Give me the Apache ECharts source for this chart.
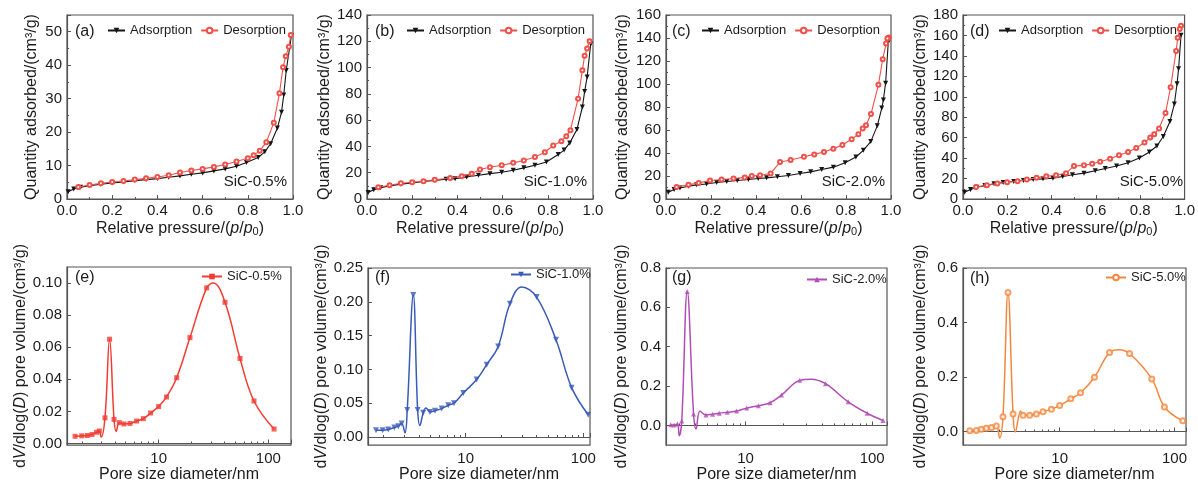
<!DOCTYPE html>
<html><head><meta charset="utf-8">
<script src="https://cdn.jsdelivr.net/npm/echarts@6/dist/echarts.min.js"></script>
<style>html,body{margin:0;padding:0;background:#fff}#c{width:1198px;height:484px}</style>
</head><body><div id="c"></div>
<script>
// ---------- Isotherms (relative pressure p/p0, quantity adsorbed cm3/g) ----------
const aAdsP = [0.005,0.03,0.06,0.1,0.15,0.2,0.25,0.3,0.35,0.4,0.45,0.5,0.55,0.6,0.65,0.7,0.75,0.794,0.846,0.875,0.901,0.931,0.949,0.959,0.97,0.993];
const aAdsQ = [2.2,3.0,3.5,4.0,4.4,4.8,5.1,5.5,5.8,6.1,6.5,6.9,7.4,7.8,8.4,9.0,9.8,10.9,12.4,14.1,16.5,21.2,25.9,31.1,38.4,48.8];
const aDesP = [0.99,0.982,0.968,0.956,0.94,0.915,0.882,0.853,0.826,0.8,0.75,0.7,0.65,0.6,0.55,0.5,0.45,0.4,0.35,0.3,0.25,0.2,0.15,0.1,0.05];
const aDesQ = [49,45.5,42.7,39.4,31.6,22.8,17,14.4,13.1,12.2,11.2,10.3,9.6,9.0,8.5,7.9,7.1,6.6,6.2,5.8,5.4,5.1,4.7,4.2,3.6];

const bAdsP = [0.005,0.03,0.06,0.1,0.15,0.2,0.25,0.3,0.35,0.39,0.441,0.493,0.544,0.596,0.647,0.694,0.743,0.794,0.846,0.872,0.897,0.929,0.953,0.963,0.974,0.99];
const bAdsQ = [5,7,8.5,10,11.3,12.3,13.3,14.2,15,15.5,16.8,18.1,19.3,20.4,21.9,23.7,25.7,28.2,33.8,37.2,42.7,52.9,70,81.7,92.9,118];
const bDesP = [0.985,0.974,0.963,0.953,0.934,0.9,0.882,0.86,0.824,0.787,0.743,0.694,0.647,0.596,0.544,0.5,0.463,0.419,0.368,0.3,0.25,0.2,0.15,0.1,0.05];
const bDesQ = [120,114.5,109,98,76.3,52.4,47.8,44,40.7,35.6,32,29.3,27.5,25.7,24.2,22.4,19.3,17.3,16,14.6,13.6,12.8,12,10.5,9];

const cAdsP = [0.01,0.036,0.062,0.1,0.136,0.18,0.225,0.27,0.317,0.366,0.41,0.447,0.495,0.544,0.596,0.643,0.692,0.744,0.796,0.844,0.877,0.91,0.939,0.959,0.966,0.976,0.988];
const cAdsQ = [5.8,8.2,9.6,11.1,12.3,13.1,14.3,15.2,16.1,16.9,17.8,18.4,19.3,20.4,22.2,23.6,25.7,27.7,31.5,36.5,42.3,49.9,63.6,79.1,86.1,100.7,136.6];
const cDesP = [0.99,0.984,0.978,0.963,0.944,0.911,0.889,0.874,0.855,0.825,0.784,0.744,0.702,0.659,0.613,0.554,0.507,0.465,0.418,0.381,0.35,0.3,0.247,0.196,0.145,0.1,0.047];
const cDesQ = [140.5,139.6,135.2,121.5,99.3,73.9,64.2,61.3,56.4,52,47,43.8,40.9,38.8,36.8,33.9,32.1,22.2,20.7,19.9,18.8,17.8,16.9,16.1,14,12.3,10.5];

const dAdsP = [0.007,0.034,0.063,0.099,0.14,0.181,0.229,0.273,0.317,0.361,0.406,0.45,0.494,0.546,0.597,0.642,0.693,0.745,0.796,0.841,0.875,0.904,0.934,0.954,0.966,0.973,0.984];
const dAdsQ = [6.6,9.2,11.5,13.1,14.8,16.1,17.1,18.1,19.1,19.7,20.4,22,23.7,25.3,27.6,29.9,32.2,35.5,40.1,46,51.9,61.1,75.9,93,112.7,127.5,160.3];
const dDesP = [0.984,0.978,0.969,0.962,0.937,0.914,0.885,0.863,0.845,0.819,0.782,0.745,0.704,0.664,0.619,0.583,0.546,0.501,0.465,0.42,0.376,0.332,0.288,0.246,0.199,0.155,0.108,0.059];
const dDesQ = [169.5,166.2,157.7,144.9,109.4,84.1,69,63.4,60.1,55.2,49.9,46,42.7,39.4,36.5,34.5,32.9,32.2,25.3,23.3,22.3,20.7,19.1,17.4,16.4,15.1,13.5,11.8];

// ---------- Pore size distributions (diameter nm, dV/dlog(D)) ----------
// marked points
const eD = [1.73,1.99,2.24,2.47,2.72,2.88,3.24,3.57,3.92,4.38,4.83,5.48,6.3,7.25,8.45,10,11.8,14.6,19.3,27.4,40.3,55.2,74,112.8];
const eV = [0.0045,0.0048,0.005,0.0056,0.007,0.0078,0.016,0.065,0.015,0.013,0.0122,0.0125,0.014,0.0155,0.019,0.023,0.029,0.041,0.066,0.097,0.088,0.053,0.0265,0.009];
// unmarked curve points (dips / crest)
const eCurveD = [2.98,4.1,31.5];
const eCurveV = [0.004,0.0075,0.1];

const fD = [1.73,1.97,2.2,2.48,2.68,2.86,3.19,3.59,3.91,4.36,4.98,5.49,6.25,7.12,7.96,9.55,12.4,15.1,18.9,23.8,40.1,58.6,79.6,110];
const fV = [0.010,0.010,0.011,0.014,0.016,0.020,0.040,0.210,0.040,0.036,0.037,0.039,0.042,0.047,0.050,0.065,0.085,0.107,0.134,0.197,0.207,0.144,0.073,0.033];
const fCurveD = [3.05,4.09,4.6,30];
const fCurveV = [0.006,0.017,0.043,0.222];

const gD = [2.56,2.72,2.89,3.13,3.46,3.88,4.86,5.49,6.19,7.16,8.49,10.2,12.6,15.6,19.2,26.8,42.8,64.7,91.4,122];
const gV = [0.003,0.002,0.007,0.023,0.68,0.058,0.053,0.057,0.062,0.067,0.073,0.088,0.10,0.115,0.154,0.229,0.212,0.12,0.062,0.025];
const gCurveD = [2.99,4.06,4.36,33];
const gCurveV = [-0.052,-0.018,0.073,0.235];

const hD = [1.65,1.88,2.08,2.3,2.55,2.81,3.21,3.55,3.93,4.8,5.48,6.27,7.16,8.47,10,12.5,15.2,20.1,27.2,40.6,63.5,81.8,118];
const hV = [0.003,0.004,0.008,0.012,0.015,0.02,0.054,0.51,0.064,0.06,0.06,0.064,0.072,0.082,0.095,0.12,0.142,0.199,0.29,0.286,0.193,0.09,0.039];
const hCurveD = [3.0,4.11,4.58,33];
const hCurveV = [-0.024,-0.002,0.075,0.30];

const panelTags = ['(a)','(b)','(c)','(d)','(e)','(f)','(g)','(h)'];
const sampleNames = ['SiC-0.5%','SiC-1.0%','SiC-2.0%','SiC-5.0%'];
const isoNames = ['Adsorption','Desorption'];

// ---------- rendering ----------
const FONT = '"Liberation Sans", Arial, Helvetica, sans-serif';
const TXT = '#1c1c1c';
const AX = '#555';
const pairs = (xs, ys) => xs.map((x, i) => [x, ys[i]]);
const merged = (xs, ys, cx, cy) => pairs(xs, ys).concat(pairs(cx, cy)).sort((p, q) => p[0] - q[0]);

const grids = [
  {left:67, top:15, width:226, height:184},
  {left:367, top:15, width:226, height:184},
  {left:666, top:15, width:225, height:184},
  {left:963, top:15, width:226, height:184},
  {left:67, top:267, width:224, height:180},
  {left:368, top:268, width:222, height:180},
  {left:666, top:268, width:221, height:179},
  {left:963, top:268, width:223, height:179}
].map(g => Object.assign({show:true, borderColor:AX, borderWidth:1.2, backgroundColor:'#fff'}, g));

const rich = {
  n:{fontSize:16, fontFamily:FONT, color:TXT},
  i:{fontSize:16, fontFamily:FONT, color:TXT, fontStyle:'italic'},
  s:{fontSize:11, fontFamily:FONT, color:TXT, verticalAlign:'bottom', lineHeight:12}
};
const topXName = '{n|Relative pressure/(}{i|p}{n|/}{i|p}{s|0}{n|)}';
const topYName = '{n|Quantity adsorbed/(cm³/g)}';
const botXName = '{n|Pore size diameter/nm}';
const botYName = '{n|d}{i|V}{n|/dlog(}{i|D}{n|) pore volume/(cm³/g)}';

const axisCommon = {
  axisLine:{show:true, lineStyle:{color:AX, width:1.2}},
  axisTick:{show:true, inside:true, length:4, lineStyle:{color:AX, width:1}},
  splitLine:{show:false},
  axisLabel:{color:TXT, fontSize:15, fontFamily:FONT},
  nameTextStyle:{rich: rich}
};
function ax(extra){ return echarts.util.merge(echarts.util.clone(axisCommon), extra, true); }

const xAxes = [], yAxes = [];
const topYMax = [55,140,160,180];
const topYGap = [27,32,35,34];
for (let k = 0; k < 4; k++) {
  xAxes.push(ax({type:'value', gridIndex:k, min:0, max:1, interval:0.2,
    name:topXName, nameLocation:'middle', nameGap:22,
    minorTick:{show:true, splitNumber:2, length:2, lineStyle:{color:AX}},
    axisLabel:{margin:4, formatter:v => v.toFixed(1)}}));
  yAxes.push(ax({type:'value', gridIndex:k, min:0, max:topYMax[k], interval:k===0?10:20,
    name:topYName, nameLocation:'middle', nameGap:topYGap[k],
    minorTick:{show:true, splitNumber:2, length:2, lineStyle:{color:AX}},
    axisLabel:{margin:5, showMaxLabel:k!==0}}));
}
const botX = [[1.46,161],[1.48,114],[2.35,131],[1.44,126]];
const botY = [[-0.001,0.11,5,2],[-0.012,0.25,5,2],[-0.1,0.8,5,1],[-0.05,0.6,3,1]];
const botYGap = [36,38,36,34];
for (let k = 0; k < 4; k++) {
  const gi = k + 4;
  xAxes.push(ax({type:'log', logBase:10, gridIndex:gi, min:botX[k][0], max:botX[k][1],
    name:botXName, nameLocation:'middle', nameGap:19,
    minorTick:{show:true, splitNumber:9, length:2, lineStyle:{color:AX}},
    axisLabel:{margin:6, showMinLabel:false, showMaxLabel:false,
      formatter:v => (Math.abs(v-10)<1e-6 || Math.abs(v-100)<1e-6) ? String(Math.round(v)) : ''}}));
  const dec = botY[k][3];
  yAxes.push(ax({type:'value', gridIndex:gi, min:botY[k][0], max:botY[k][1], splitNumber:botY[k][2],
    name:botYName, nameLocation:'middle', nameGap:botYGap[k],
    axisLabel:{margin:5, showMinLabel:false, showMaxLabel:k!==0, formatter:v => v.toFixed(dec)}}));
}

const ADS = '#151515', DES = '#f0504a';
const iso = [
  [aAdsP,aAdsQ,aDesP,aDesQ],[bAdsP,bAdsQ,bDesP,bDesQ],
  [cAdsP,cAdsQ,cDesP,cDesQ],[dAdsP,dAdsQ,dDesP,dDesQ]
];
const series = [];
iso.forEach((s, k) => {
  series.push({type:'line', name:isoNames[0], xAxisIndex:k, yAxisIndex:k, data:pairs(s[0], s[1]),
    symbol:'triangle', symbolRotate:180, symbolSize:5, showSymbol:true,
    lineStyle:{color:ADS, width:1.1}, itemStyle:{color:ADS}, z:3});
  series.push({type:'line', name:isoNames[1], xAxisIndex:k, yAxisIndex:k, data:pairs(s[2], s[3]),
    symbol:'emptyCircle', symbolSize:4, showSymbol:true,
    lineStyle:{color:DES, width:1.1}, itemStyle:{color:DES, borderWidth:0.8}, z:4});
});
const psd = [
  [eD,eV,eCurveD,eCurveV,'#f23b32','rect',5,0],
  [fD,fV,fCurveD,fCurveV,'#3a5ab8','triangle',6,180],
  [gD,gV,gCurveD,gCurveV,'#b24db6','triangle',5,0],
  [hD,hV,hCurveD,hCurveV,'#f5873c','emptyCircle',5,0]
];
psd.forEach((p, k) => {
  const gi = k + 4;
  series.push({type:'line', name:sampleNames[k], xAxisIndex:gi, yAxisIndex:gi,
    data:merged(p[0], p[1], p[2], p[3]), smooth:0.4, showSymbol:false,
    symbol:p[5], symbolSize:p[6], symbolRotate:p[7],
    lineStyle:{color:p[4], width:1.5}, itemStyle:{color:p[4], borderWidth:1}, z:3});
  series.push({type:'scatter', name:sampleNames[k] + ' pts', xAxisIndex:gi, yAxisIndex:gi,
    data:pairs(p[0], p[1]), symbol:p[5], symbolSize:p[6], symbolRotate:p[7],
    itemStyle:{color:p[4], borderWidth:p[5]==='emptyCircle' ? 1 : 0}, z:4});
});

const legendBase = {orient:'horizontal', padding:0, itemGap:8, itemHeight:7,
  textStyle:{color:TXT, fontSize:13, fontFamily:FONT}, selectedMode:false};
const topLegLeft = [107,406,701,998];
const botLegLeft = [201,510,806,1105];
const botLegTop = [270,268,273,271];
const legends = [];
for (let k = 0; k < 4; k++) {
  legends.push(Object.assign({}, legendBase, {left:topLegLeft[k], top:24, itemWidth:17, data:isoNames}));
}
for (let k = 0; k < 4; k++) {
  legends.push(Object.assign({}, legendBase, {left:botLegLeft[k], top:botLegTop[k], itemWidth:20, data:[sampleNames[k]]}));
}

const tagPos = [[75,32],[375,32],[672,32],[970,32],[75,278],[375,278],[672,278],[970,279]];
const samplePos = [[287,182],[587,182],[885,182],[1183,182]];
const graphic = [];
tagPos.forEach((p, k) => graphic.push({type:'text', x:p[0], y:p[1], z:10,
  style:{text:panelTags[k], fill:TXT, font:'16px ' + FONT, textVerticalAlign:'middle', verticalAlign:'middle'}}));
samplePos.forEach((p, k) => graphic.push({type:'text', x:p[0], y:p[1], z:10,
  style:{text:sampleNames[k], fill:TXT, font:'15px ' + FONT, align:'right', textAlign:'right', verticalAlign:'middle', textVerticalAlign:'middle'}}));

const chart = echarts.init(document.getElementById('c'), null, {renderer:'canvas'});
chart.setOption({
  animation:false,
  backgroundColor:'#fff',
  textStyle:{fontFamily:FONT},
  grid:grids, xAxis:xAxes, yAxis:yAxes, series:series, legend:legends, graphic:graphic
});
</script></body></html>
